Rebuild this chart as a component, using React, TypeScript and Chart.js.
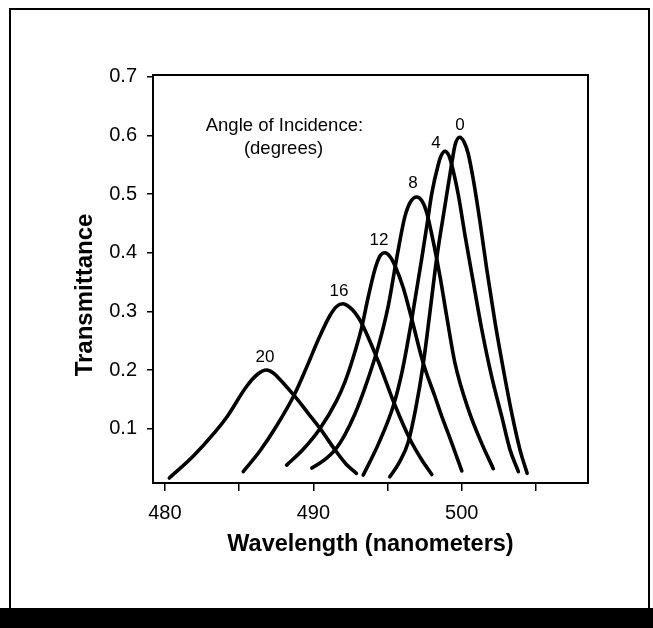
import React, { useEffect, useRef } from "react";
import { Chart, registerables } from "chart.js";

Chart.register(...registerables);

// Wavelength (nm) and transmittance for each angle of incidence (degrees)
const WL_0 = [495.15, 495.8, 496.4, 496.9, 497.4, 497.86, 498.3, 498.87, 499.32, 499.55, 499.85, 500.15, 500.44, 500.78, 501.23, 501.68, 502.24, 502.8, 503.36, 503.92, 504.4];
const T_0 = [0.018, 0.043, 0.078, 0.135, 0.21, 0.3, 0.389, 0.481, 0.552, 0.584, 0.597, 0.589, 0.568, 0.524, 0.452, 0.372, 0.281, 0.201, 0.127, 0.064, 0.024];

const WL_4 = [493.36, 494.4, 495.4, 496.0, 496.62, 497.3, 497.7, 497.97, 498.42, 498.6, 498.87, 499.1, 499.32, 499.77, 500.22, 500.78, 501.34, 502.0, 502.69, 503.25, 503.81];
const T_4 = [0.021, 0.075, 0.14, 0.2, 0.285, 0.39, 0.455, 0.5, 0.551, 0.565, 0.573, 0.567, 0.55, 0.498, 0.429, 0.349, 0.27, 0.19, 0.121, 0.064, 0.027];

const WL_8 = [489.9, 490.7, 491.46, 492.13, 492.8, 493.48, 494.37, 495.05, 495.61, 496.17, 496.55, 496.96, 497.3, 497.62, 498.19, 498.53, 498.98, 499.54, 500.44, 501.34, 502.12];
const T_8 = [0.033, 0.046, 0.064, 0.09, 0.125, 0.17, 0.24, 0.31, 0.39, 0.462, 0.487, 0.495, 0.489, 0.47, 0.405, 0.36, 0.292, 0.212, 0.133, 0.075, 0.032];

const WL_12 = [488.2, 489.32, 490.44, 491.57, 492.13, 492.69, 493.25, 493.7, 494.15, 494.5, 494.82, 495.15, 495.5, 496.06, 496.62, 497.4, 498.19, 498.64, 499.32, 500.0];
const T_12 = [0.038, 0.065, 0.1, 0.148, 0.18, 0.222, 0.272, 0.325, 0.372, 0.395, 0.4, 0.394, 0.378, 0.34, 0.288, 0.212, 0.155, 0.122, 0.076, 0.028];

const WL_16 = [485.28, 486.4, 487.53, 488.76, 489.55, 490.44, 491.12, 491.55, 492.0, 492.4, 492.8, 493.25, 494.37, 495.5, 496.51, 497.3, 497.98];
const T_16 = [0.027, 0.062, 0.105, 0.16, 0.205, 0.258, 0.293, 0.308, 0.313, 0.308, 0.298, 0.28, 0.215, 0.14, 0.082, 0.047, 0.022];

const WL_20 = [480.3, 481.9, 483.4, 484.2, 485.5, 486.2, 486.85, 487.3, 487.75, 488.76, 489.6, 490.44, 491.46, 492.2, 492.9];
const T_20 = [0.016, 0.053, 0.095, 0.121, 0.172, 0.192, 0.2, 0.195, 0.184, 0.155, 0.128, 0.101, 0.064, 0.04, 0.024];

const ANGLES = ["0", "4", "8", "12", "16", "20"];
const WAVELENGTHS = [WL_0, WL_4, WL_8, WL_12, WL_16, WL_20];
const TRANSMITTANCES = [T_0, T_4, T_8, T_12, T_16, T_20];

// Angle labels placed next to each peak (data coordinates)
const LABEL_X = [499.88, 498.26, 496.71, 494.42, 491.73, 486.74];
const LABEL_Y = [0.617, 0.586, 0.518, 0.422, 0.334, 0.221];

const NOTE_LINES = ["Angle of Incidence:", "(degrees)"];
const NOTE_X = [488.05, 487.99];
const NOTE_Y = [0.617, 0.577];

const X_TICKS = [480, 485, 490, 495, 500, 505];
const X_TICK_LABELS = ["480", "", "490", "", "500", ""];
const Y_TICKS = [0.1, 0.2, 0.3, 0.4, 0.5, 0.6, 0.7];
const Y_TICK_LABELS = ["0.1", "0.2", "0.3", "0.4", "0.5", "0.6", "0.7"];

const X_TITLE = "Wavelength (nanometers)";
const Y_TITLE = "Transmittance";

const FONT = '"Liberation Sans", Arial, Helvetica, sans-serif';

const decor = {
  id: "decor",
  afterDraw(chart: any) {
    const { ctx, chartArea, scales } = chart;
    const xs = scales.x;
    const ys = scales.y;
    ctx.save();
    ctx.strokeStyle = "#000";
    ctx.lineWidth = 2;
    ctx.strokeRect(chartArea.left, chartArea.top, chartArea.right - chartArea.left, chartArea.bottom - chartArea.top);

    ctx.fillStyle = "#000";
    ctx.textAlign = "center";
    ctx.textBaseline = "middle";
    ctx.font = `17px ${FONT}`;
    ANGLES.forEach((a, i) => {
      ctx.fillText(a, xs.getPixelForValue(LABEL_X[i]), ys.getPixelForValue(LABEL_Y[i]));
    });
    ctx.font = `18.5px ${FONT}`;
    NOTE_LINES.forEach((t, i) => {
      ctx.fillText(t, xs.getPixelForValue(NOTE_X[i]), ys.getPixelForValue(NOTE_Y[i]));
    });

    ctx.font = `bold 23.5px ${FONT}`;
    ctx.fillText(X_TITLE, (chartArea.left + chartArea.right) / 2, 545);

    ctx.translate(85, 295);
    ctx.rotate(-Math.PI / 2);
    ctx.font = `bold 24px ${FONT}`;
    ctx.fillText(Y_TITLE, 0, 0);
    ctx.restore();
  },
};

export default function App() {
  const ref = useRef<HTMLCanvasElement | null>(null);

  useEffect(() => {
    document.body.style.margin = "0";
    const canvas = ref.current;
    if (!canvas) return;
    const chart = new Chart(canvas, {
      type: "line",
      data: {
        datasets: ANGLES.map((a, k) => ({
          label: a,
          data: WAVELENGTHS[k].map((x, i) => ({ x, y: TRANSMITTANCES[k][i] })),
          borderColor: "#000",
          backgroundColor: "#000",
          borderWidth: 3.6,
          pointRadius: 0,
          fill: false,
          cubicInterpolationMode: "monotone" as const,
          borderCapStyle: "round" as const,
          borderJoinStyle: "round" as const,
        })),
      },
      options: {
        responsive: false,
        animation: false,
        layout: { padding: { left: 70, right: 65, top: 75, bottom: 65 } },
        plugins: { legend: { display: false }, tooltip: { enabled: false } },
        scales: {
          x: {
            type: "linear",
            min: 479.2,
            max: 508.5,
            afterBuildTicks: (s: any) => {
              s.ticks = X_TICKS.map((v) => ({ value: v }));
            },
            afterFit: (s: any) => {
              s.height = 80;
            },
            grid: { drawOnChartArea: false, drawTicks: true, tickLength: 8, color: "#000", lineWidth: 1.5 },
            border: { display: false },
            ticks: {
              color: "#000",
              font: { family: FONT, size: 20 },
              padding: 10,
              autoSkip: false,
              maxRotation: 0,
              callback: (_v: any, i: number) => X_TICK_LABELS[i],
            },
          },
          y: {
            type: "linear",
            min: 0.0075,
            max: 0.703,
            afterBuildTicks: (s: any) => {
              s.ticks = Y_TICKS.map((v) => ({ value: v }));
            },
            afterFit: (s: any) => {
              s.width = 83;
            },
            grid: { drawOnChartArea: false, drawTicks: true, tickLength: 6, color: "#000", lineWidth: 1.5 },
            border: { display: false },
            ticks: {
              color: "#000",
              font: { family: FONT, size: 20 },
              padding: 10,
              autoSkip: false,
              callback: (_v: any, i: number) => Y_TICK_LABELS[i],
            },
          },
        },
      },
      plugins: [decor],
    });
    return () => chart.destroy();
  }, []);

  return (
    <div style={{ position: "relative", width: 653, height: 628, background: "#fff", overflow: "hidden" }}>
      <canvas ref={ref} width={653} height={628} style={{ position: "absolute", left: 0, top: 0, display: "block" }} />
      <div
        style={{
          position: "absolute",
          left: 9,
          top: 8,
          width: 641,
          height: 620,
          boxSizing: "border-box",
          borderTop: "2px solid #000",
          borderLeft: "2px solid #000",
          borderRight: "2px solid #000",
        }}
      />
      <div style={{ position: "absolute", left: 0, top: 608, width: 653, height: 20, background: "#000" }} />
    </div>
  );
}
